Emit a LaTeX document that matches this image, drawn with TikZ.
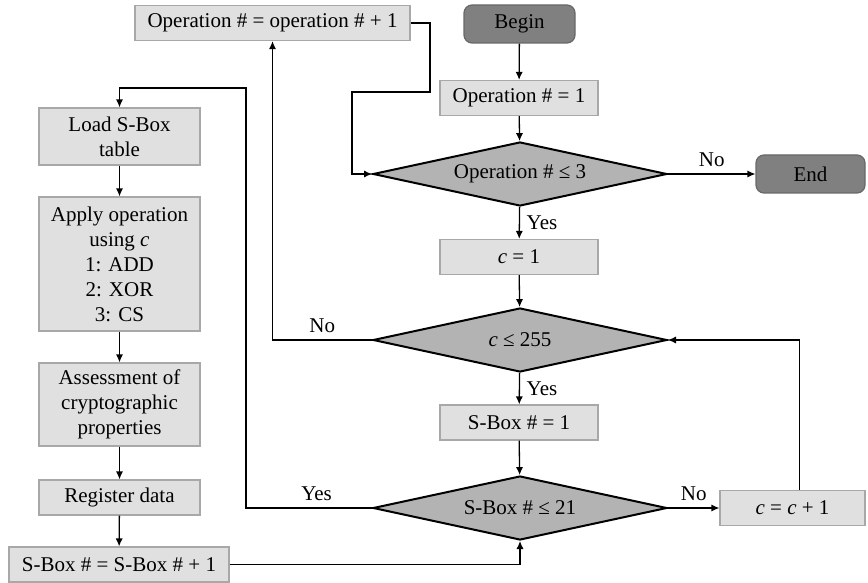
\documentclass[tikz,border=0pt]{standalone}
\usepackage{fontspec}
\setmainfont{Liberation Serif}
\usepackage{tikz}
\usetikzlibrary{shapes.geometric, arrows.meta, positioning, calc}
\definecolor{termfill}{HTML}{808080}
\definecolor{termdraw}{HTML}{686868}
\definecolor{procfill}{HTML}{E0E0E0}
\definecolor{procdraw}{HTML}{A8A8A8}
\definecolor{decfill}{HTML}{B3B3B3}
\tikzstyle{terminal} = [rectangle, rounded corners=4pt, minimum width=55.5pt,
    minimum height=19pt, text centered, fill=termfill, draw=termdraw, line width=0.6pt]
\tikzstyle{process} = [rectangle, minimum width=79pt, minimum height=17.5pt,
    text centered, align=center, fill=procfill, draw=procdraw, line width=0.6pt, inner sep=2pt]
\tikzstyle{decision} = [diamond, aspect=4.6, minimum width=147pt, minimum height=32pt,
    inner sep=0pt, text centered, fill=decfill, draw=black, line width=1pt]
\tikzstyle{arrow} = [line width=0.65pt, -{Latex[length=4pt,width=3.6pt]}]

\begin{document}
\begin{tikzpicture}[x=0.5pt, y=-0.5pt, font=\fontsize{10.5}{12.5}\selectfont]
  \useasboundingbox (0,0) rectangle (868,583);
  % Main loop
  \node[terminal](begin) at (519.5,24){Begin};
  \node[process](op1) at (519,98){Operation \# = 1};
  \node[decision](dec1) at (520,174){Operation \# ≤ 3};
  \node[terminal, minimum width=54.5pt](end) at (810.5,174){End};
  \node[process](c1) at (519,257){\textit{c} = 1};
  \node[decision](dec2) at (520,340){\textit{c} ≤ 255};
  \node[process](sb1) at (519,422.5){S-Box \# = 1};
  \node[decision](dec3) at (520,508){S-Box \# ≤ 21};
  \node[process, minimum width=72.5pt](cinc) at (792.5,508){\textit{c} = \textit{c} + 1};
  \node[process, minimum width=137.5pt](opinc) at (272.5,23){Operation \# = operation \# + 1};
  % S-Box processing
  \node[process, minimum width=80.5pt, minimum height=28.5pt](load) at (119.5,136.5){Load S-Box\\table};
  \node[process, minimum width=80.5pt, minimum height=67pt](apply) at (119.5,264){Apply operation\\using \textit{c}\\1: ADD\\2: XOR\\3: CS};
  \node[process, minimum width=80.5pt, minimum height=41.5pt](assess) at (119.5,404.5){Assessment of\\cryptographic\\properties};
  \node[process, minimum width=80.5pt](reg) at (119.5,497.5){Register data};
  \node[process, minimum width=110pt](sbinc) at (119,564.5){S-Box \# = S-Box \# + 1};

  \coordinate (opturn) at (430,92);
  \coordinate (opback) at (352,92);
  \coordinate (yesturn) at (246,88);

  % Main arrows
  \draw[arrow](begin)--(op1);
  \draw[arrow](op1)--(dec1);
  \draw[arrow](dec1)-- node[above]{No} (end);
  \draw[arrow](dec1)-- node[right]{Yes} (c1);
  \draw[arrow](c1)--(dec2);
  \draw[arrow](dec2)-- node[right]{Yes} (sb1);
  \draw[arrow](sb1)--(dec3);
  \draw[arrow](dec3)-- node[above]{No} (cinc);

  % Loop back arrows
  \draw[arrow]([xshift=3.5pt]cinc.north) |- (dec2.east);
  \draw[arrow](dec2.west) -| node[pos=0.25, above]{No} (opinc.south);
  \draw[arrow](opinc.east) -| (opturn) -- (opback) |- (dec1.west);
  \draw[arrow](dec3.west) -| node[pos=0.22, above]{Yes} (yesturn) -| (load.north);

  % S-Box column
  \draw[arrow](load)--(apply);
  \draw[arrow](apply)--(assess);
  \draw[arrow](assess)--(reg);
  \draw[arrow](reg)--(sbinc);
  \draw[arrow](sbinc.east) -| (dec3.south);
\end{tikzpicture}
\end{document}
